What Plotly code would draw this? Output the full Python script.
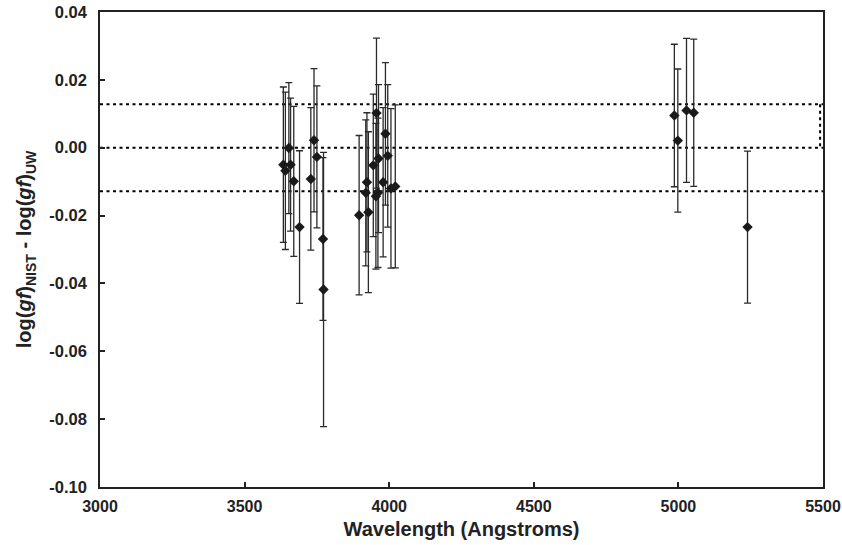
import plotly.graph_objects as go

# Wavelength (Angstroms), log(gf) difference, and symmetric uncertainty
wavelength = [3634, 3641, 3653, 3659, 3670, 3690, 3729, 3740, 3750, 3771, 3773,
              3896, 3919, 3923, 3928, 3945, 3954, 3956, 3961, 3963, 3979, 3987, 3995, 4006, 4021,
              4986, 4998, 5028, 5053, 5239]
delta_loggf = [-0.0050, -0.0068, -0.0001, -0.0050, -0.0099, -0.0234, -0.0092, 0.0022, -0.0027, -0.0269, -0.0418,
               -0.0199, -0.0133, -0.0102, -0.0190, -0.0052, -0.0143, 0.0102, -0.0133, -0.0032, -0.0102, 0.0041, -0.0024, -0.0120, -0.0114,
               0.0095, 0.0021, 0.0110, 0.0103, -0.0234]
uncertainty = [0.0229, 0.0232, 0.0193, 0.0196, 0.0221, 0.0225, 0.0210, 0.0211, 0.0209, 0.0240, 0.0404,
               0.0235, 0.0215, 0.0205, 0.0237, 0.0210, 0.0215, 0.0221, 0.0220, 0.0218, 0.0220, 0.0210, 0.0210, 0.0235, 0.0240,
               0.0210, 0.0211, 0.0212, 0.0217, 0.0224]

# Reference lines: mean (0) and +/- standard deviation band
ref_levels = [0.0128, 0.0, -0.0128]

x_tickvals = [3000, 3500, 4000, 4500, 5000, 5500]
x_ticktext = ["3000", "3500", "4000", "4500", "5000", "5500"]
y_tickvals = [0.04, 0.02, 0.0, -0.02, -0.04, -0.06, -0.08, -0.10]
y_ticktext = ["0.04", "0.02", "0.00", "-0.02", "-0.04", "-0.06", "-0.08", "-0.10"]

fig = go.Figure()

dot_style = dict(color="black", width=2, dash="3px,3.5px")
for lvl in ref_levels:
    fig.add_trace(go.Scatter(
        x=[3000, 5500], y=[lvl, lvl], mode="lines", line=dot_style,
        hoverinfo="skip", showlegend=False))
fig.add_trace(go.Scatter(
    x=[5490, 5490], y=[ref_levels[0], ref_levels[1]], mode="lines", line=dot_style,
    hoverinfo="skip", showlegend=False))

fig.add_trace(go.Scatter(
    x=wavelength, y=delta_loggf, mode="markers",
    marker=dict(symbol="diamond", size=8, color="#1a1a1a"),
    error_y=dict(type="data", array=uncertainty, visible=True,
                 color="#2a2a2a", thickness=1.3, width=3.5),
    showlegend=False))

font_family = "Liberation Sans, Arial, sans-serif"
fig.update_layout(
    width=842, height=545,
    margin=dict(l=100, r=19, t=12, b=58),
    paper_bgcolor="white", plot_bgcolor="white",
    font=dict(family=font_family, color="#222222", size=16),
    xaxis=dict(
        range=[3000, 5500], tickvals=x_tickvals, ticktext=x_ticktext,
        showgrid=False, zeroline=False, automargin=False,
        showline=True, linecolor="#222222", linewidth=1.5, mirror=True,
        ticks="inside", ticklen=5, tickwidth=1.5, tickcolor="#222222",
        tickfont=dict(size=16, family=font_family, weight="bold"),
        ticklabelstandoff=4, ticklabeloverflow="allow",
        title=dict(text="<b>Wavelength (Angstroms)</b>", font=dict(size=20), standoff=8),
    ),
    yaxis=dict(
        range=[-0.10, 0.04], tickvals=y_tickvals, ticktext=y_ticktext,
        showgrid=False, zeroline=False, automargin=False,
        showline=True, linecolor="#222222", linewidth=1.5, mirror=True,
        ticks="inside", ticklen=5, tickwidth=1.5, tickcolor="#222222",
        tickfont=dict(size=16.5, family=font_family, weight="bold"),
        ticklabelstandoff=8, ticklabeloverflow="allow",
        title=dict(text="<b>log(<i>gf</i>)<sub>NIST</sub> - log(<i>gf</i>)<sub>UW</sub></b>",
                   font=dict(size=20), standoff=12),
    ),
)

fig.write_html("out.html", config={"displayModeBar": False},
               post_script="document.body.style.margin='0';document.body.style.overflow='hidden';")
